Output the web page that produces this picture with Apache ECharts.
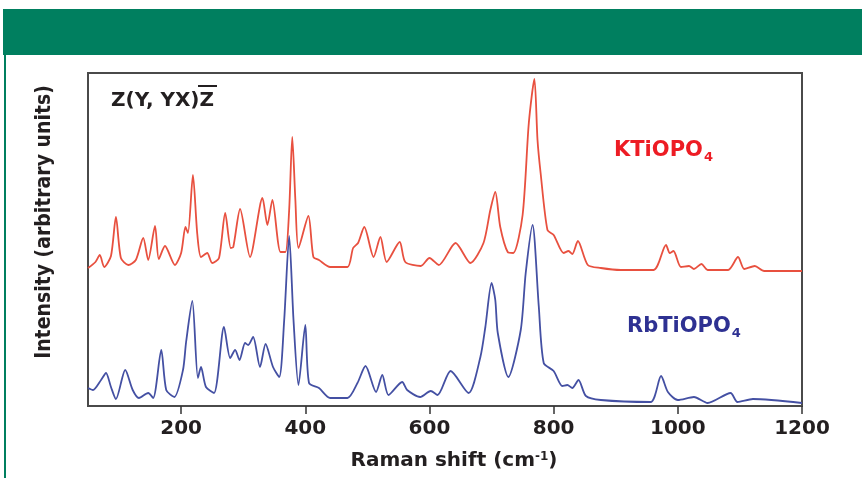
<!DOCTYPE html>
<html>
<head>
<meta charset="utf-8">
<script src="https://cdn.jsdelivr.net/npm/echarts@6/dist/echarts.min.js"></script>
<style>
html,body{margin:0;padding:0;background:#fff;}
#chart{width:862px;height:478px;}
</style>
</head>
<body>
<div id="chart"></div>
<script>
// Raman shift ticks
const xTicks = [200, 400, 600, 800, 1000, 1200];

// KTiOPO4 spectrum (offset upward, arbitrary units)
const ktpShift = [50,62,69,76,87,95,103,115,127,139,147,158,164,174,190,200,207,211,219,226,232,242,250,261,271,280,284,295,311,331,339,347,360,368,374,379,384,389,405,413,422,440,468,477,485,495,510,521,531,552,561,586,600,615,642,666,687,698,706,714,726,735,750,760,769,774,779,790,800,816,824,830,839,855,876,908,961,981,987,993,1005,1018,1026,1038,1048,1081,1097,1107,1124,1139,1200];
const ktpIntensity = [138,144,151,139,150,189,148,141,146,168,146,180,147,160,141,153,179,173,231,172,149,153,143,148,193,158,159,197,149,208,181,206,154,154,196,269,206,158,190,149,146,139,139,158,163,179,149,169,144,164,144,140,148,141,163,143,163,196,214,179,154,153,191,283,327,266,233,176,171,153,155,152,165,141,138,136,136,161,153,155,139,140,137,142,136,136,149,137,140,135,135];

// RbTiOPO4 spectrum (arbitrary units)
const rtpShift = [50,58,71,79,87,95,110,122,132,147,155,168,176,189,203,208,218,227,232,240,253,269,279,287,294,303,308,316,327,336,348,358,366,374,381,389,400,406,422,440,468,484,497,514,524,534,556,564,585,602,613,634,663,682,690,700,706,710,727,747,755,766,776,784,800,814,822,830,840,852,876,956,973,984,1000,1026,1048,1085,1096,1121,1200];
const rtpIntensity = [18,16,26,33,19,7,36,16,8,13,8,56,16,9,36,64,105,28,39,19,13,79,48,56,46,63,61,69,39,62,39,29,86,170,86,21,81,23,18,8,8,23,40,14,31,11,24,16,9,15,11,35,13,49,79,123,106,73,29,76,133,181,100,43,35,20,21,18,26,10,6,4,30,14,6,9,3,13,4,7,3];

const seriesNames = ['KTiOPO4', 'RbTiOPO4'];

function pairs(xs, ys) { return xs.map((x, i) => [x, ys[i]]); }

const chart = echarts.init(document.getElementById('chart'), null, {renderer: 'canvas'});
const boldFont = '"DejaVu Sans", "Open Sans", sans-serif';
const condFont = '"DejaVu Sans Condensed", "Open Sans", sans-serif';
const ink = '#231f20';

chart.setOption({
  animation: false,
  backgroundColor: '#ffffff',
  grid: {left: 88, right: 60, top: 73, bottom: 72, show: true, borderColor: '#4a4a4a', borderWidth: 2, backgroundColor: 'transparent'},
  xAxis: {
    type: 'value', min: 50, max: 1200,
    name: 'Raman shift (cm{sup|-1})',
    nameLocation: 'middle', nameGap: 45,
    nameTextStyle: {fontFamily: boldFont, fontWeight: 'bold', fontSize: 20, color: ink, padding: [0, 0, 0, 18],
      rich: {sup: {fontFamily: boldFont, fontWeight: 'bold', fontSize: 12, color: ink, verticalAlign: 'top', lineHeight: 14}}},
    axisLine: {show: false},
    axisTick: {show: true, inside: false, length: 8, customValues: xTicks, lineStyle: {color: '#333', width: 1.5}},
    axisLabel: {customValues: xTicks, formatter: v => String(v), fontFamily: boldFont, fontWeight: 'bold', fontSize: 20, color: ink, margin: 13},
    splitLine: {show: false}
  },
  yAxis: {
    type: 'value', min: 0, max: 333,
    axisLine: {show: false}, axisTick: {show: false}, axisLabel: {show: false}, splitLine: {show: false}
  },
  series: [
    {name: seriesNames[0], type: 'line', data: pairs(ktpShift, ktpIntensity), showSymbol: false, smooth: 0.25,
      lineStyle: {color: '#e8503f', width: 1.8}},
    {name: seriesNames[1], type: 'line', data: pairs(rtpShift, rtpIntensity), showSymbol: false, smooth: 0.25,
      lineStyle: {color: '#4450a3', width: 1.8}}
  ],
  graphic: [
    {type: 'rect', shape: {x: 3, y: 9, width: 859, height: 46}, style: {fill: '#007f5f'}, silent: true},
    {type: 'rect', shape: {x: 4, y: 55, width: 2, height: 423}, style: {fill: '#007f5f'}, silent: true},
    {type: 'text', x: 45, y: 222, rotation: Math.PI / 2,
      style: {text: 'Intensity (arbitrary units)', align: 'center', verticalAlign: 'middle', fontFamily: condFont, fontWeight: 'bold', fontSize: 21, fill: ink}},
    {type: 'text', x: 214, y: 91, style: {text: 'Z(Y, YX)Z', align: 'right', verticalAlign: 'top', fontFamily: boldFont, fontWeight: 'bold', fontSize: 20, fill: ink}},
    {type: 'line', shape: {x1: 198, y1: 86, x2: 217, y2: 86}, style: {stroke: ink, lineWidth: 2}},
    {type: 'text', left: 614, top: 140, style: {text: 'KTiOPO{sub|4}', fontFamily: boldFont, fontWeight: 'bold', fontSize: 21, fill: '#ed1c24',
      rich: {sub: {fontFamily: boldFont, fontWeight: 'bold', fontSize: 13, fill: '#ed1c24', padding: [14, 0, 0, 1]}}}},
    {type: 'text', left: 627, top: 316, style: {text: 'RbTiOPO{sub|4}', fontFamily: boldFont, fontWeight: 'bold', fontSize: 21, fill: '#2e3192',
      rich: {sub: {fontFamily: boldFont, fontWeight: 'bold', fontSize: 13, fill: '#2e3192', padding: [14, 0, 0, 1]}}}}
  ]
});
</script>
</body>
</html>
